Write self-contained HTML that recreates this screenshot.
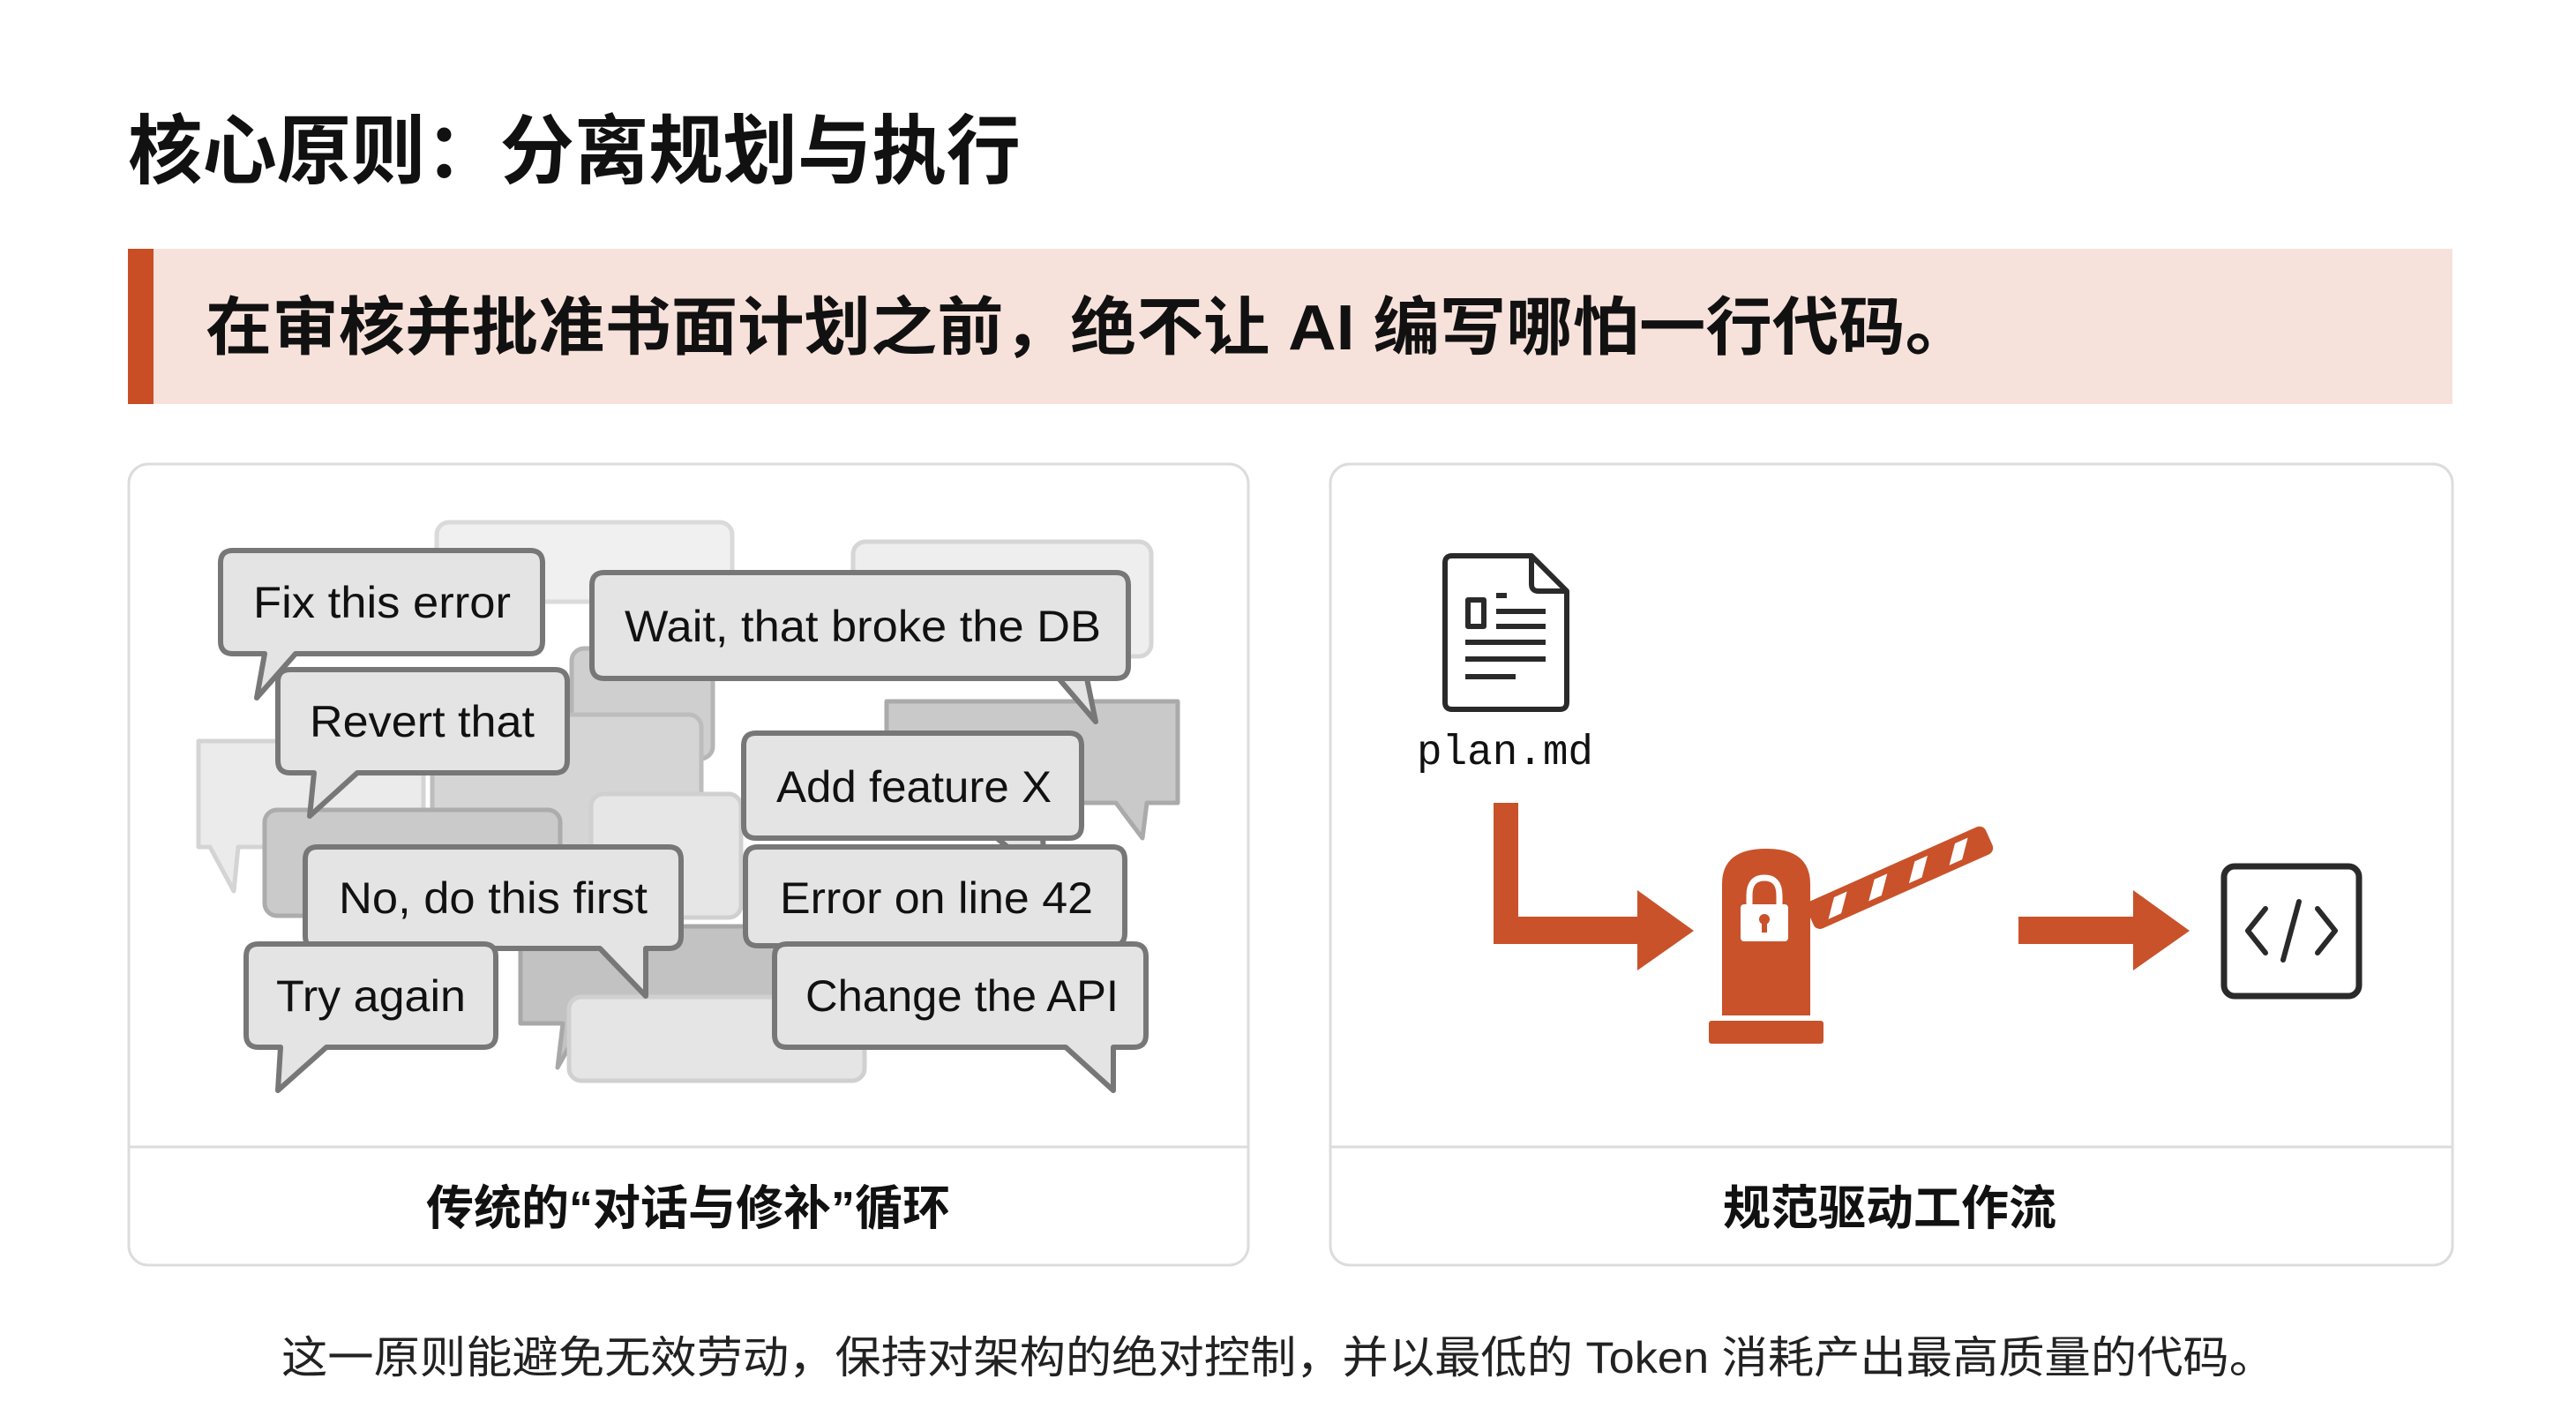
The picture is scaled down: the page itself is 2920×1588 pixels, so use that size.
<!DOCTYPE html>
<html><head><meta charset="utf-8"><style>
html,body{margin:0;padding:0;background:#fff;}
svg{display:block;}
</style></head><body>
<svg width="2920" height="1588" viewBox="0 0 2920 1588" xmlns="http://www.w3.org/2000/svg">
<rect width="2920" height="1588" fill="#ffffff"/>
<!-- title -->
<text x="145" y="201" font-family="Liberation Sans, Noto Sans CJK SC, sans-serif" font-weight="bold" font-size="86" fill="#111" textLength="1012" lengthAdjust="spacingAndGlyphs">核心原则：分离规划与执行</text>
<!-- banner -->
<rect x="145" y="282" width="2635" height="176" fill="#f7e2db"/>
<rect x="145" y="282" width="29" height="176" fill="#c94e25"/>
<text x="233" y="396" font-family="Liberation Sans, Noto Sans CJK SC, sans-serif" font-weight="bold" font-size="72" fill="#111" textLength="2002" lengthAdjust="spacingAndGlyphs">在审核并批准书面计划之前，绝不让 AI 编写哪怕一行代码。</text>

<!-- panels -->
<rect x="146" y="526" width="1269" height="908" rx="22" fill="#fff" stroke="#dcdcdc" stroke-width="3"/>
<line x1="146" y1="1300" x2="1415" y2="1300" stroke="#dcdcdc" stroke-width="3"/>
<rect x="1508" y="526" width="1272" height="908" rx="22" fill="#fff" stroke="#dcdcdc" stroke-width="3"/>
<line x1="1508" y1="1300" x2="2780" y2="1300" stroke="#dcdcdc" stroke-width="3"/>
<text x="780" y="1388" text-anchor="middle" font-family="Liberation Sans, Noto Sans CJK SC, sans-serif" font-weight="bold" font-size="54" fill="#111">传统的“对话与修补”循环</text>
<text x="2142" y="1388" text-anchor="middle" font-family="Liberation Sans, Noto Sans CJK SC, sans-serif" font-weight="bold" font-size="54" fill="#111">规范驱动工作流</text>

<!-- ghost bubbles -->
<g stroke-width="5" stroke-linejoin="round">
<rect x="495" y="592" width="335" height="90" rx="14" fill="#f0f0f0" stroke="#dadada"/>
<rect x="967" y="614" width="338" height="130" rx="14" fill="#eeeeee" stroke="#d6d6d6"/>
<path d="M225 840 H480 V960 H270 L265 1010 L238 960 H225 Z" fill="#ebebeb" stroke="#d4d4d4"/>
<rect x="648" y="735" width="160" height="125" rx="14" fill="#cfcfcf" stroke="#b5b5b5"/>
<rect x="490" y="810" width="305" height="160" rx="14" fill="#d5d5d5" stroke="#bdbdbd"/>
<path d="M1005 795 H1335 V910 H1300 L1295 950 L1265 910 H1005 Z" fill="#c9c9c9" stroke="#aaaaaa"/>
<rect x="300" y="918" width="335" height="120" rx="14" fill="#cacaca" stroke="#acacac"/>
<rect x="670" y="900" width="170" height="140" rx="14" fill="#e6e6e6" stroke="#d0d0d0"/>
<path d="M590 1050 H880 V1160 H660 L632 1210 L638 1160 H590 Z" fill="#c2c2c2" stroke="#a8a8a8"/>
<rect x="645" y="1130" width="335" height="95" rx="14" fill="#e5e5e5" stroke="#d0d0d0"/>
</g>

<!-- main bubbles -->
<g fill="#e4e4e4" stroke="#777" stroke-width="6" stroke-linejoin="round" font-family="Liberation Sans, sans-serif" font-size="50">
<path d="M264 624 H601 Q615 624 615 638 V727 Q615 741 601 741 H335 L291 791 L300 741 H264 Q250 741 250 727 V638 Q250 624 264 624 Z"/>
<path d="M685 649 H1265 Q1279 649 1279 663 V755 Q1279 769 1265 769 H1200 L1242 818 L1232 769 H685 Q671 769 671 755 V663 Q671 649 685 649 Z"/>
<path d="M329 759 H629 Q643 759 643 773 V862 Q643 876 629 876 H405 L351 925 L356 876 H329 Q315 876 315 862 V773 Q315 759 329 759 Z"/>
<path d="M857 831 H1212 Q1226 831 1226 845 V936 Q1226 950 1212 950 H1130 L1185 995 L1182 950 H857 Q843 950 843 936 V845 Q843 831 857 831 Z"/>
<path d="M859 960 H1261 Q1275 960 1275 974 V1058 Q1275 1072 1261 1072 H859 Q845 1072 845 1058 V974 Q845 960 859 960 Z"/>
<path d="M360 960 H758 Q772 960 772 974 V1061 Q772 1075 758 1075 H732 L732 1129 L680 1075 H360 Q346 1075 346 1061 V974 Q346 960 360 960 Z"/>
<path d="M293 1070 H548 Q562 1070 562 1084 V1173 Q562 1187 548 1187 H370 L315 1236 L318 1187 H293 Q279 1187 279 1173 V1084 Q279 1070 293 1070 Z"/>
<path d="M892 1070 H1285 Q1299 1070 1299 1084 V1173 Q1299 1187 1285 1187 H1262 L1262 1236 L1208 1187 H892 Q878 1187 878 1173 V1084 Q878 1070 892 1070 Z"/>
<g fill="#111" stroke="none">
<text x="287" y="700" textLength="292" lengthAdjust="spacingAndGlyphs">Fix this error</text>
<text x="708" y="727" textLength="540" lengthAdjust="spacingAndGlyphs">Wait, that broke the DB</text>
<text x="351" y="835" textLength="255" lengthAdjust="spacingAndGlyphs">Revert that</text>
<text x="880" y="909" textLength="312" lengthAdjust="spacingAndGlyphs">Add feature X</text>
<text x="384" y="1035" textLength="350" lengthAdjust="spacingAndGlyphs">No, do this first</text>
<text x="884" y="1035" textLength="355" lengthAdjust="spacingAndGlyphs">Error on line 42</text>
<text x="313" y="1146" textLength="215" lengthAdjust="spacingAndGlyphs">Try again</text>
<text x="913" y="1146" textLength="355" lengthAdjust="spacingAndGlyphs">Change the API</text>
</g>
</g>

<!-- right side: document -->
<g fill="none" stroke="#2a2a2a" stroke-width="6" stroke-linejoin="round">
<path d="M1646 630 H1736 L1776 670 V796 Q1776 804 1768 804 H1646 Q1638 804 1638 796 V638 Q1638 630 1646 630 Z"/>
<path d="M1736 630 V662 Q1736 670 1744 670 H1776"/>
<rect x="1664" y="680" width="18" height="30"/>
<line x1="1696" y1="675" x2="1708" y2="675"/>
<line x1="1696" y1="693" x2="1752" y2="693"/>
<line x1="1696" y1="710" x2="1752" y2="710"/>
<line x1="1661" y1="728" x2="1752" y2="728"/>
<line x1="1661" y1="747" x2="1752" y2="747"/>
<line x1="1661" y1="767" x2="1718" y2="767"/>
</g>
<text x="1606" y="866" font-family="Liberation Mono, monospace" font-size="48" fill="#111" textLength="200" lengthAdjust="spacingAndGlyphs">plan.md</text>

<!-- L arrow -->
<g fill="#c9522a">
<path d="M1693 910 H1721 V1039 H1856 V1009 L1920 1055 L1856 1100 V1070 H1693 Z"/>
<!-- gate -->
<path d="M1952 1151 V1002 Q1952 962 2002 962 Q2052 962 2052 1002 V1151 Z"/>
<rect x="1937" y="1157" width="130" height="26" rx="3"/>
<path d="M2288 1039 H2418 V1009 L2482 1055 L2418 1100 V1070 H2288 Z"/>
</g>
<!-- lock -->
<g>
<path d="M1983 1027 V1015 Q1983 995 2000 995 Q2017 995 2017 1015 V1027" fill="none" stroke="#fff" stroke-width="7"/>
<rect x="1973" y="1025" width="54" height="42" rx="4" fill="#fff"/>
<circle cx="2000" cy="1042" r="6" fill="#c9522a"/>
<rect x="1997" y="1043" width="6" height="14" fill="#c9522a"/>
</g>
<!-- arm -->
<g transform="translate(2052,1040) rotate(-24)">
<rect x="0" y="-17" width="222" height="34" rx="8" fill="#c9522a"/>
<g fill="#fff">
<polygon points="18,10 34,-10 50,-10 34,10"/>
<polygon points="68,10 84,-10 100,-10 84,10"/>
<polygon points="118,10 134,-10 150,-10 134,10"/>
<polygon points="168,10 184,-10 200,-10 184,10"/>
</g>
</g>
<!-- code box -->
<rect x="2521" y="982" width="153" height="147" rx="12" fill="#fff" stroke="#2a2a2a" stroke-width="7"/>
<g fill="none" stroke="#2a2a2a" stroke-width="6" stroke-linecap="round" stroke-linejoin="round">
<polyline points="2568,1030 2548,1055 2568,1080"/>
<polyline points="2627,1030 2647,1055 2627,1080"/>
<line x1="2606" y1="1022" x2="2588" y2="1088"/>
</g>

<!-- bottom -->
<text x="1449" y="1556" text-anchor="middle" font-family="Liberation Sans, Noto Sans CJK SC, sans-serif" font-size="50" fill="#222" textLength="2260" lengthAdjust="spacingAndGlyphs">这一原则能避免无效劳动，保持对架构的绝对控制，并以最低的 Token 消耗产出最高质量的代码。</text>
</svg>
</body></html>
